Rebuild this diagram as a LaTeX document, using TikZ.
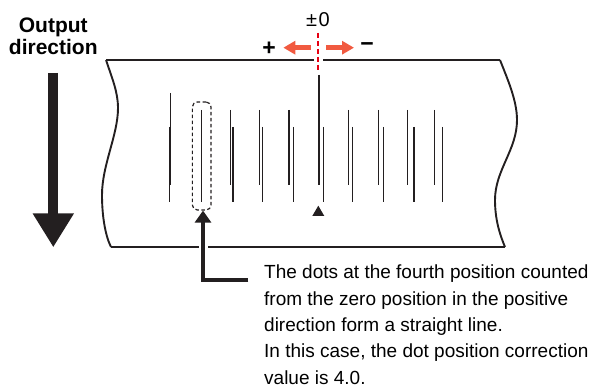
\documentclass[tikz,border=0pt]{standalone}
\usepackage{fontspec}
\setmainfont{Liberation Sans}
\usetikzlibrary{arrows.meta,positioning}
\definecolor{inkblack}{HTML}{231F20}
\definecolor{shiftred}{HTML}{F15A40}
\definecolor{zerored}{HTML}{E60012}
\tikzset{
  tape/.style={draw=inkblack, line width=1.9pt, line join=miter},
  dotline/.style={draw=inkblack, line width=1.4pt},
  hilite/.style={draw=inkblack, dashed, dash pattern=on 3.5pt off 2.5pt, line width=1.2pt, rounded corners=5pt, minimum width=18.7pt, minimum height=108pt, inner sep=0pt},
  shiftarrow/.style={draw=shiftred, line width=5pt, -{Triangle[length=12pt,width=13pt]}},
  pointer/.style={draw=inkblack, line width=4.5pt, -{Triangle[length=12pt,width=16pt]}},
  halo/.style={preaction={draw=white, line width=9pt, -, solid}},
  sign/.style={font=\bfseries\fontsize{23}{23}\selectfont, inner sep=0pt},
  note/.style={align=left, inner sep=0pt, font=\fontsize{19}{26.3}\selectfont}
}

\begin{document}
\begin{tikzpicture}[x=1pt, y=-1pt]
\useasboundingbox (0,0) rectangle (596,387);
% tape
\draw[tape] (111,247) -- (505,247);
\draw[tape] (106,60) -- (500,60);
\draw[tape] (106,60) .. controls (112,78) and (118,92) .. (118,108)
  .. controls (118,135) and (102,165) .. (102,195)
  .. controls (102,215) and (105,235) .. (111,247);
\draw[tape] (500,60) .. controls (507,78) and (517,100) .. (517,120)
  .. controls (517,150) and (495,170) .. (495,200)
  .. controls (495,220) and (500,235) .. (505,247);
% dot lines, upper and lower pass
\foreach \x/\ytop in {170.7/93,201.7/110,230.7/110,259.3/110,289/110,319/75,348.3/110,378.7/110,407.7/110,434.7/110}
  \draw[dotline] (\x,\ytop) -- (\x,185);
\foreach \x in {169.3,201.7,233,262.7,293.3,323.3,352.7,383.7,414,442.3}
  \draw[dotline] (\x,127) -- (\x,202);
% zero position
\fill[inkblack] (312.3,216) -- (324.3,216) -- (318.3,205.7) -- cycle;
\draw[draw=zerored, line width=2pt, dash pattern=on 5pt off 3pt, halo] (318.3,33) -- (318.3,72);
\node[font=\fontsize{20}{20}\selectfont, anchor=base] (zero) at (318,27) {±\kern1.5pt0};
\coordinate (shiftL) at (310.7,47.7);
\coordinate (shiftR) at (326,47.7);
\draw[shiftarrow] (shiftL) -- ++(-27.4,0);
\draw[shiftarrow] (shiftR) -- ++(28,0);
\node[sign] (plus) at (269,49) {+};
\node[sign] (minus) at (367,47) {−};
% output direction
\node[align=center, font=\bfseries\fontsize{21}{22}\selectfont, anchor=base] (outlbl) at (53.3,55) {Output\\direction};
\coordinate (outtop) at (53.3,73);
\draw[draw=inkblack, line width=10pt, -{Triangle[length=34pt,width=39pt]}] (outtop) -- (53.3,247.3);
% fourth position
\node[hilite] (box4) at (201.7,156) {};
\node[note, anchor=north west] (notetext) at (264,265) {The dots at the fourth position counted\\from the zero position in the positive\\direction form a straight line.\\In this case, the dot position correction\\value is 4.0.};
\coordinate (bend) at (203,280);
\draw[pointer, halo] (248.3,280) -- (bend) -- (box4.south -| bend);
\end{tikzpicture}
\end{document}
